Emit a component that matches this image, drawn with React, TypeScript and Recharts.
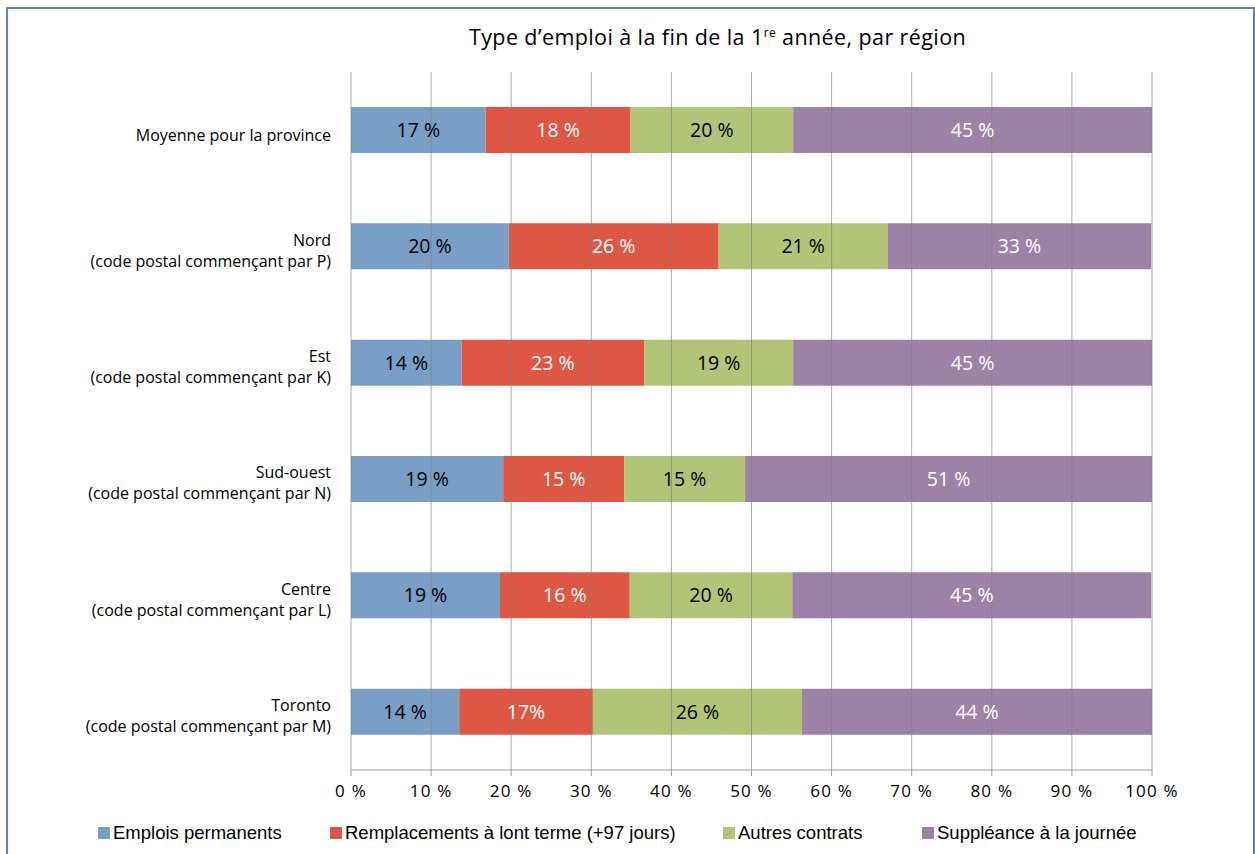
import { BarChart, Bar, XAxis, YAxis, LabelList, ReferenceLine } from 'recharts';

const regions = ['Moyenne pour la province', 'Nord', 'Est', 'Sud-ouest', 'Centre', 'Toronto'];
const regionSubs = [
  '',
  '(code postal commençant par P)',
  '(code postal commençant par K)',
  '(code postal commençant par N)',
  '(code postal commençant par L)',
  '(code postal commençant par M)',
];

const permanents = [16.8, 19.7, 13.8, 19.0, 18.6, 13.5];
const remplacements = [18.1, 26.2, 22.8, 15.1, 16.2, 16.7];
const autres = [20.3, 21.1, 18.6, 15.1, 20.3, 26.1];
const suppleance = [44.8, 32.9, 44.8, 50.8, 44.8, 43.7];

const permLabels = ['17 %', '20 %', '14 %', '19 %', '19 %', '14 %'];
const remplLabels = ['18 %', '26 %', '23 %', '15 %', '16 %', '17%'];
const autresLabels = ['20 %', '21 %', '19 %', '15 %', '20 %', '26 %'];
const suppLabels = ['45 %', '33 %', '45 %', '51 %', '45 %', '44 %'];

const xTicks = [0, 10, 20, 30, 40, 50, 60, 70, 80, 90, 100];
const bandTicks = [0, 1, 2, 3, 4, 5, 6];

const seriesNames = [
  'Emplois permanents',
  'Remplacements à lont terme (+97 jours)',
  'Autres contrats',
  'Suppléance à la journée',
];

const data = regions.map((name, i) => ({
  name,
  sub: regionSubs[i],
  perm: permanents[i],
  rempl: remplacements[i],
  autres: autres[i],
  supp: suppleance[i],
  permLabel: permLabels[i],
  remplLabel: remplLabels[i],
  autresLabel: autresLabels[i],
  suppLabel: suppLabels[i],
}));

const COLORS = ['#7a9fc6', '#de5745', '#b1c477', '#9d82a7'];
const LABEL_COLORS = ['#000', '#fff', '#000', '#fff'];
const KEYS = ['perm', 'rempl', 'autres', 'supp'];
const LEGEND_LEFT = [98, 330, 723, 922];
const FONT = '"Open Sans", Lato, sans-serif';

function RegionTick(props: any) {
  const { x, y, payload } = props;
  const sub = regionSubs[payload.index];
  if (!sub) {
    return (
      <text x={x} y={y + 11} textAnchor="end" fontSize={16} fontWeight={500} fontFamily={FONT} fill="#000">
        {payload.value}
      </text>
    );
  }
  return (
    <text textAnchor="end" fontSize={16} fontWeight={500} fontFamily={FONT} fill="#000">
      <tspan x={x} y={y - 1}>{payload.value}</tspan>
      <tspan x={x} y={y + 20}>{sub}</tspan>
    </text>
  );
}

export default function App() {
  return (
    <div
      style={{
        position: 'fixed',
        left: 0,
        top: 0,
        width: 1255,
        height: 854,
        overflow: 'hidden',
        background: '#fff',
        fontFamily: FONT,
      }}
    >
      <div
        style={{
          position: 'absolute',
          left: 6,
          top: 7,
          width: 1245,
          height: 900,
          border: '2px solid #5a85bd',
        }}
      />
      <div
        style={{
          position: 'absolute',
          left: 0,
          width: 1255,
          top: 22,
          textAlign: 'center',
          fontSize: 21.5,
          fontWeight: 500,
          letterSpacing: 0.4,
          color: '#000',
          paddingLeft: 180,
          boxSizing: 'border-box',
        }}
      >
        Type d’emploi à la fin de la 1<sup style={{ fontSize: 12 }}>re</sup> année, par région
      </div>
      <div style={{ position: 'absolute', left: 0, top: 0 }}>
        <BarChart
          width={1255}
          height={854}
          data={data}
          layout="vertical"
          margin={{ top: 72, right: 103, bottom: 54, left: 0 }}
        >
          <XAxis
            type="number"
            domain={[0, 100]}
            ticks={xTicks}
            height={30}
            tickFormatter={(v) => `${v} %`}
            tick={{ fontSize: 17, fontWeight: 500, fill: '#000', fontFamily: FONT, letterSpacing: 1.2 }}
            tickSize={6}
            tickMargin={9}
            axisLine={{ stroke: '#9a9a9a' }}
            tickLine={{ stroke: '#9a9a9a' }}
            interval={0}
          />
          <YAxis
            yAxisId="grid"
            type="number"
            domain={[0, 6]}
            ticks={bandTicks}
            tick={false}
            tickSize={6}
            width={0}
            axisLine={{ stroke: '#9a9a9a' }}
            tickLine={{ stroke: '#9a9a9a' }}
          />
          <YAxis
            type="category"
            dataKey="name"
            width={351}
            tick={<RegionTick />}
            tickLine={false}
            axisLine={false}
            tickSize={0}
            tickMargin={20}
            interval={0}
          />
          {KEYS.map((k, i) => (
            <Bar
              key={k}
              dataKey={k}
              name={seriesNames[i]}
              stackId="a"
              fill={COLORS[i]}
              barSize={46}
              isAnimationActive={false}
            >
              <LabelList
                dataKey={`${k}Label`}
                position="center"
                fill={LABEL_COLORS[i]}
                fontSize={19.5}
                fontWeight={500}
                fontFamily={FONT}
              />
            </Bar>
          ))}
          {xTicks.map((t) => (
            <ReferenceLine key={t} x={t} stroke="#808080" strokeOpacity={0.65} />
          ))}
        </BarChart>
      </div>
      {seriesNames.map((n, i) => (
        <div
          key={n}
          style={{
            position: 'absolute',
            left: LEGEND_LEFT[i],
            top: 822,
            display: 'flex',
            alignItems: 'center',
            fontFamily: '"Liberation Sans", Arial, sans-serif',
            fontSize: 18.5,
            color: '#000',
            whiteSpace: 'nowrap',
          }}
        >
          <span
            style={{ display: 'inline-block', width: 12, height: 12, background: COLORS[i], marginRight: 3 }}
          />
          {n}
        </div>
      ))}
    </div>
  );
}
